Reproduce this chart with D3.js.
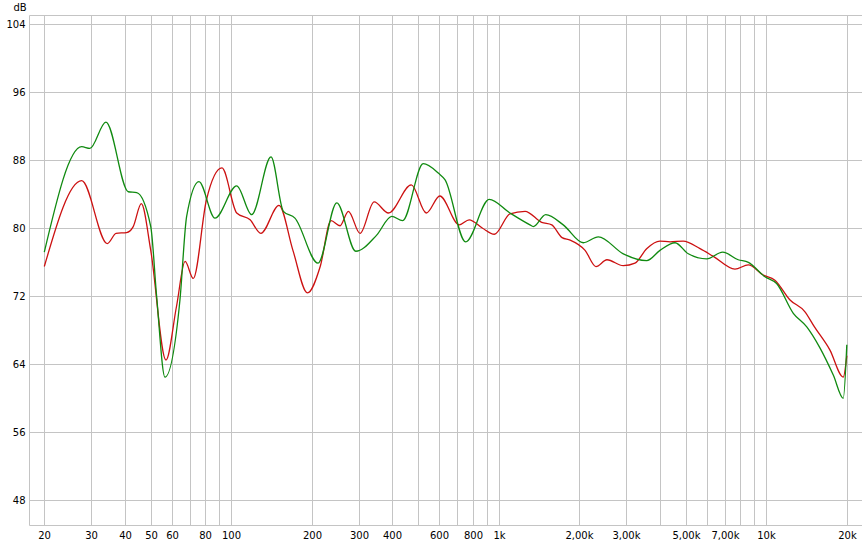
<!DOCTYPE html>
<html>
<head>
<meta charset="utf-8">
<script src="https://cdn.jsdelivr.net/npm/d3@7"></script>
<style>
body { margin: 0; background: #fff; }
text { font-family: "DejaVu Sans", sans-serif; font-size: 10px; fill: #000; }
</style>
</head>
<body>
<div id="chart"></div>
<script>
// measured response, two channels
var greenFreq = [20, 27.6, 29.6, 34, 41.2, 44.3, 50, 52.6, 56.5, 64.3, 68.1, 75.7, 86.9, 104.8, 119.2, 140.8, 156.6, 173, 211, 248, 292, 349.6, 398, 437, 522, 594, 630, 752, 921, 1101, 1308, 1346, 1498, 1742, 2070, 2356, 2921, 3571, 4004, 4560, 5111, 5985, 6870, 7853, 8570, 9887, 10930, 12620, 14170, 15890, 17820, 19400, 20000];
var greenDb = [77.2, 89.6, 89.4, 92.5, 84.3, 84.2, 80.2, 72.0, 62.5, 71.6, 81.4, 85.5, 81.2, 85.0, 81.6, 88.4, 82.0, 81.2, 75.9, 83.0, 77.3, 79.2, 81.4, 80.9, 87.6, 86.5, 85.7, 78.4, 83.4, 81.8, 80.4, 80.2, 81.6, 80.4, 78.3, 79.0, 77.0, 76.2, 77.4, 78.3, 77.0, 76.4, 77.2, 76.3, 76.0, 74.3, 73.5, 70.0, 68.4, 65.9, 62.7, 60.0, 66.3];

var redFreq = [20, 27.6, 34.4, 37.1, 40.6, 43, 46.1, 50, 57, 62.4, 67.2, 72.1, 80.7, 92.3, 104.8, 117.6, 129, 150.8, 170, 192.6, 215, 236, 255, 274, 303, 342, 387, 471, 536, 602, 712, 775, 870, 963, 1101, 1254, 1447, 1578, 1724, 1849, 2102, 2309, 2538, 2921, 3230, 3571, 4004, 4370, 4889, 5654, 6338, 7636, 8570, 9744, 10770, 12240, 13930, 15140, 17280, 19400, 20000];
var redDb = [75.5, 85.6, 78.2, 79.4, 79.5, 80.2, 82.9, 77.4, 64.5, 70.8, 76.1, 74.1, 83.3, 87.1, 81.8, 81.0, 79.4, 82.7, 77.4, 72.4, 75.5, 80.9, 80.3, 82.0, 79.4, 83.1, 81.8, 85.1, 81.8, 83.8, 80.4, 81.0, 80.0, 79.3, 81.7, 82.0, 80.7, 80.4, 78.9, 78.6, 77.4, 75.5, 76.3, 75.6, 75.9, 77.6, 78.5, 78.4, 78.5, 77.6, 76.7, 75.2, 75.7, 74.5, 73.9, 71.6, 70.2, 68.4, 65.7, 62.5, 65.0];

var xGrid = [20, 30, 40, 50, 60, 70, 80, 90, 100, 200, 300, 400, 500, 600, 700, 800, 900, 1000, 2000, 3000, 4000, 5000, 6000, 7000, 8000, 9000, 10000, 20000];
var xLabels = ["20", "30", "40", "50", "60", "", "80", "", "100", "200", "300", "400", "", "600", "", "800", "", "1k", "2,00k", "3,00k", "", "5,00k", "", "7,00k", "", "", "10k", "20k"];
var yTicks = [48, 56, 64, 72, 80, 88, 96, 104];

var svgWidth = 862;
var svgHeight = 545;

var frame = { left: 29.5, top: 15.5, right: 862, bottom: 525.5 };

var svg = d3.select("#chart")
.append("svg")
.attr("width", svgWidth)
.attr("height", svgHeight);

var x = d3.scaleLog()
.domain([20, 20000])
.range([44.3, 846.8]);

var y = d3.scaleLinear()
.domain([48, 104])
.range([500.3, 24.3]);

var gridColor = "#c4c4c4";
var snap = v => Math.round(v) + 0.5;

// vertical grid + x labels
var xAxis = d3.axisBottom(x)
.tickValues(xGrid)
.tickSize(-(frame.bottom - frame.top))
.tickPadding(6)
.tickFormat((d, i) => xLabels[i]);

svg.append("g")
.attr("transform", `translate(0, ${frame.bottom})`)
.call(xAxis)
.call(g => g.select(".domain").remove())
.call(g => g.selectAll(".tick").attr("transform", d => `translate(${snap(x(d))},0)`))
.call(g => g.selectAll(".tick line").attr("stroke", gridColor))
.call(g => g.selectAll(".tick text").attr("font-size", null).attr("font-family", null));

// horizontal grid + y labels
var yAxis = d3.axisLeft(y)
.tickValues(yTicks)
.tickSize(-(frame.right - frame.left))
.tickPadding(4)
.tickFormat(d3.format("d"));

svg.append("g")
.attr("transform", `translate(${frame.left}, 0)`)
.call(yAxis)
.call(g => g.select(".domain").remove())
.call(g => g.selectAll(".tick").attr("transform", d => `translate(0,${snap(y(d))})`))
.call(g => g.selectAll(".tick line").attr("stroke", gridColor))
.call(g => g.selectAll(".tick text").attr("font-size", null).attr("font-family", null));

// frame
svg.append("path")
.attr("d", `M${frame.right},${frame.top}H${frame.left}V${frame.bottom}H${frame.right}`)
.attr("fill", "none")
.attr("stroke", gridColor);

svg.append("text")
.attr("x", 20)
.attr("y", 11)
.attr("text-anchor", "middle")
.text("dB");

var line = d3.line()
.x(d => x(d[0]))
.y(d => y(d[1]))
.curve(d3.curveMonotoneX);

svg.append("path")
.datum(d3.zip(redFreq, redDb))
.attr("d", line)
.attr("fill", "none")
.attr("stroke", "#cc1111")
.attr("stroke-width", 1.3);

svg.append("path")
.datum(d3.zip(greenFreq, greenDb))
.attr("d", line)
.attr("fill", "none")
.attr("stroke", "#108a10")
.attr("stroke-width", 1.3);
</script>
</body>
</html>
